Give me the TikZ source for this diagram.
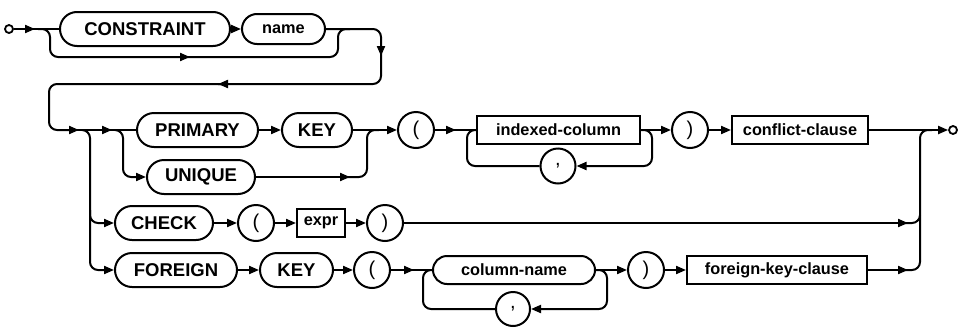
\documentclass[tikz,border=0pt]{standalone}
\usepackage{fontspec}
\newfontfamily\sqlfont{Liberation Sans}
\usetikzlibrary{arrows.meta}
\begin{document}
\begin{tikzpicture}[x=1pt,y=-1pt,
  ln/.style={line width=2pt},
  arr/.style={line width=2pt,-{Triangle[length=10pt,width=8pt]}},
  rc/.style={rounded corners=8pt},
  kw/.style={draw,line width=2pt,rounded corners=17pt,minimum height=34pt,inner sep=0pt,font=\sqlfont\bfseries\fontsize{18.5}{20}\selectfont},
  ntr/.style={draw,line width=2pt,rounded corners=14pt,minimum height=28pt,inner sep=0pt,font=\sqlfont\bfseries\fontsize{16.3}{18}\selectfont},
  nt/.style={draw,line width=2pt,minimum height=28pt,inner sep=0pt,font=\sqlfont\bfseries\fontsize{16.3}{18}\selectfont},
  pc/.style={draw,circle,line width=2pt,minimum size=36pt,inner sep=0pt,font=\sqlfont\fontsize{20}{22}\selectfont},
  term/.style={draw,circle,line width=1.8pt,minimum size=8pt,inner sep=0pt}]
\useasboundingbox (0,0) rectangle (960,327);

% ---------- nodes ----------
\node[term] (start) at (9,29) {};
\node[kw,minimum width=170pt] (cons) at (145,29) {CONSTRAINT};
\node[ntr,minimum width=83pt,minimum height=30pt,rounded corners=15pt] (name) at (283.5,29) {name};

\node[kw,minimum width=121pt] (prim) at (197.5,130) {PRIMARY};
\node[kw,minimum width=70pt] (keya) at (317,130) {KEY};
\node[kw,minimum width=108pt] (uniq) at (201,177) {UNIQUE};
\node[pc] (lpa) at (416,130) {(};
\node[nt,minimum width=163pt] (idx) at (558.5,130) {indexed-column};
\node[pc,minimum size=35pt] (cma) at (558,166) {,};
\node[pc] (rpa) at (690,130) {)};
\node[nt,minimum width=136pt] (conf) at (800,130) {conflict-clause};
\node[term] (stop) at (953,130) {};

\node[kw,minimum width=98pt] (chk) at (164,223) {CHECK};
\node[pc] (lpb) at (256,223) {(};
\node[nt,minimum width=48pt] (expr) at (321,223) {expr};
\node[pc] (rpb) at (385,223) {)};

\node[kw,minimum width=122pt] (fgn) at (176,270) {FOREIGN};
\node[kw,minimum width=73pt] (keyb) at (296.5,270) {KEY};
\node[pc] (lpc) at (372,270) {(};
\node[ntr,minimum width=162pt] (col) at (514,270) {column-name};
\node[pc,minimum size=34pt] (cmb) at (513,309) {,};
\node[pc] (rpc) at (646,270) {)};
\node[nt,minimum width=180pt] (fkc) at (777,270) {foreign-key-clause};

% ---------- row 1 ----------
\draw[arr] (start) -- (35,29);
\draw[ln] (33,29) -- (cons);
\draw[arr,rc] (38,29) -- (50,29) -- (50,57) -- (190,57);
\draw[ln,rc] (186,57) -- (338,57) -- (338,29) -- (350,29);
\draw[arr] (cons) -- (name);
\draw[arr,rc] (name.east) -- (381,29) -- (381,56);
\draw[ln,rc] (381,52) -- (381,84) -- (218,84);
\draw[arr] (230,84) -- (218,84);
\draw[arr,rc] (222,84) -- (49,84) -- (49,130) -- (79,130);

% ---------- row 2 ----------
\draw[arr] (76,130) -- (112,130);
\draw[ln] (110,130) -- (prim);
\draw[arr,rc] (82,130) -- (90,130) -- (90,223) -- (chk);
\draw[arr,rc] (90,210) -- (90,270) -- (fgn);
\draw[arr,rc] (115,130) -- (123,130) -- (123,177) -- (uniq);
\draw[arr] (prim) -- (keya);
\draw[arr] (keya) -- (lpa);
\draw[arr] (uniq) -- (350,177);
\draw[ln,rc] (346,177) -- (367,177) -- (367,130) -- (379,130);
\draw[arr] (lpa) -- (456,130);
\draw[ln] (454,130) -- (idx);
\draw[arr,rc] (idx.east) -- (652,130) -- (652,166) -- (cma);
\draw[ln,rc] (cma) -- (467,166) -- (467,130) -- (idx.west);
\draw[arr] (idx) -- (rpa);
\draw[arr] (rpa) -- (conf);
\draw[arr] (conf) -- (stop);

% ---------- check row ----------
\draw[arr] (chk) -- (lpb);
\draw[arr] (lpb) -- (expr);
\draw[arr] (expr) -- (rpb);
\draw[arr] (rpb) -- (908,223);
\draw[ln,rc] (904,223) -- (920,223) -- (920,130) -- (932,130);

% ---------- foreign row ----------
\draw[arr] (fgn) -- (keyb);
\draw[arr] (keyb) -- (lpc);
\draw[arr] (lpc) -- (414,270);
\draw[ln] (412,270) -- (col);
\draw[arr,rc] (col.east) -- (607,270) -- (607,309) -- (cmb);
\draw[ln,rc] (cmb) -- (423,309) -- (423,270) -- (col.west);
\draw[arr] (col) -- (rpc);
\draw[arr] (rpc) -- (fkc);
\draw[arr] (fkc) -- (908,270);
\draw[ln,rc] (904,270) -- (920,270) -- (920,215);
\end{tikzpicture}
\end{document}
